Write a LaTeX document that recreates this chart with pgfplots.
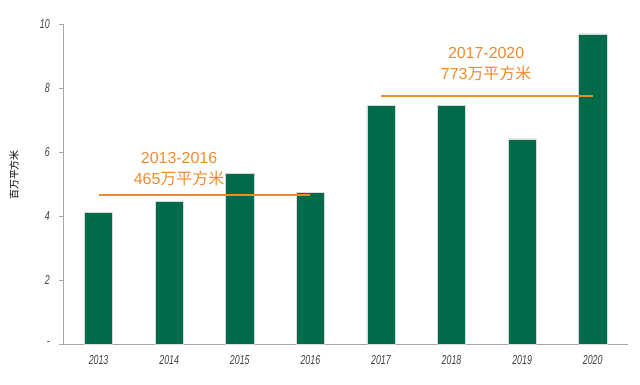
\documentclass[border=0pt]{standalone}
\usepackage{pgfplots}
\pgfplotsset{compat=1.18}
\usepackage{fontspec}
\setmainfont{Liberation Sans}
\newfontfamily\cjk{Noto Sans CJK SC}
\newfontfamily\tickfont[FakeStretch=0.68]{Liberation Sans}
\definecolor{bargreen}{HTML}{006B4A}
\definecolor{lineorange}{HTML}{F08A2E}
\definecolor{axisgray}{HTML}{A6A6A6}
\definecolor{ticktext}{HTML}{404040}
\begin{document}
\begin{tikzpicture}
\begin{axis}[
  at={(63.3bp,41bp)}, anchor=south west,
  scale only axis,
  width=564.7bp, height=320bp,
  xmin=-0.5, xmax=7.5, ymin=0, ymax=10,
  axis x line*=bottom, axis y line*=left,
  axis line style={axisgray, line width=0.8pt},
  every outer x axis line/.append style={-},
  every outer y axis line/.append style={-},
  xtick={0,1,2,3,4,5,6,7},
  xticklabels={2013,2014,2015,2016,2017,2018,2019,2020},
  major x tick style={draw=none},
  extra x ticks={-0.5,0.5,1.5,2.5,3.5,4.5,5.5,6.5,7.5},
  extra x tick labels={},
  extra x tick style={major tick length=4bp, tick style={axisgray, line width=0.6pt}, tick align=outside},
  ytick={0,2,4,6,8,10},
  yticklabels={-,2,4,6,8,10},
  y tick style={axisgray, line width=0.6pt},
  tick align=outside,
  major tick length=4bp,
  /pgf/number format/assume math mode=true,
  tick label style={font=\tickfont\itshape\fontsize{13}{15}\selectfont, text=ticktext},
  xticklabel style={yshift=-4bp},
  yticklabel style={xshift=-6bp},
  clip=false,
]
\addplot[ybar, bar width=28.2bp, fill=bargreen, draw=white!85!black, line width=0.5pt]
  coordinates {(0,4.12) (1,4.45) (2,5.33) (3,4.74) (4,7.46) (5,7.45) (6,6.41) (7,9.69)};
\addplot[lineorange, line width=1.6pt] coordinates {(0,4.65) (3,4.65)};
\addplot[lineorange, line width=1.6pt] coordinates {(4,7.75) (7,7.75)};
\node[text=lineorange, font=\fontsize{16}{18}\selectfont, align=center] at (axis cs:1.14,5.81) {2013-2016};
\node[text=lineorange, font=\fontsize{16}{18}\selectfont, align=center] at (axis cs:1.14,5.19) {465{\cjk 万平方米}};
\node[text=lineorange, font=\fontsize{16}{18}\selectfont, align=center] at (axis cs:5.49,9.09) {2017-2020};
\node[text=lineorange, font=\fontsize{16}{18}\selectfont, align=center] at (axis cs:5.49,8.47) {773{\cjk 万平方米}};
\end{axis}
\node[rotate=90, font=\cjk\fontsize{10}{12}\selectfont, text=black] at (14bp,210bp) {百万平方米};
\path[use as bounding box] (0,0) rectangle (640bp,385bp);
\end{tikzpicture}
\end{document}
